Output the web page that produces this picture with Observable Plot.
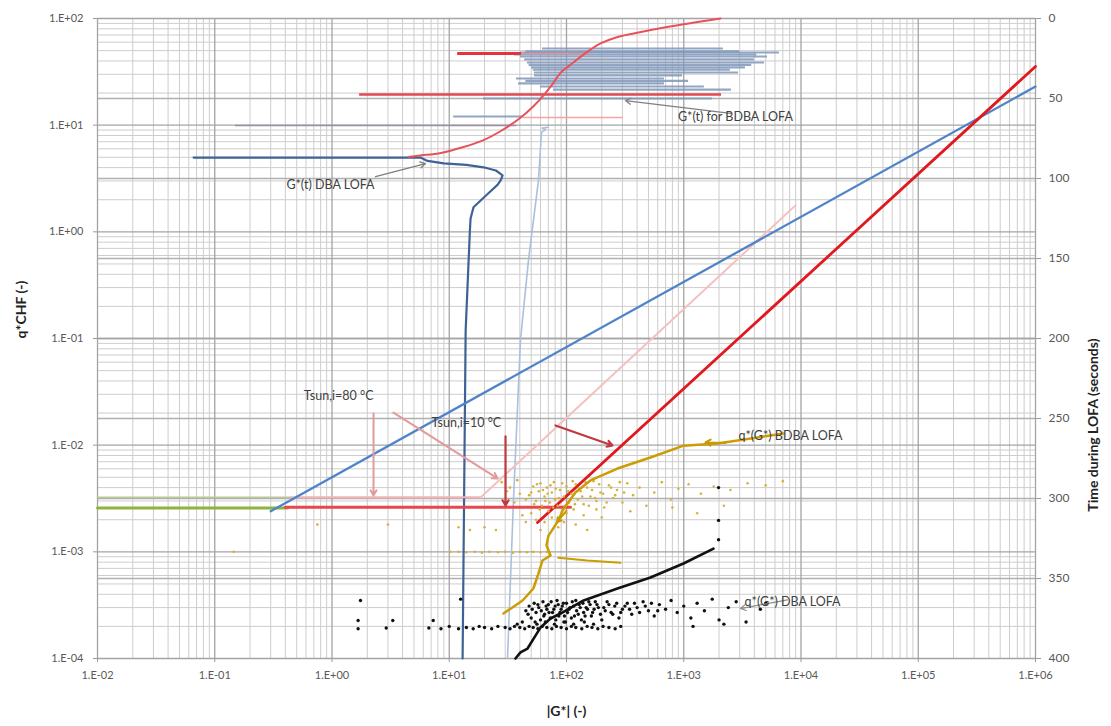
<!DOCTYPE html>
<html><head><meta charset="utf-8">
<script src="https://cdn.jsdelivr.net/npm/d3@7"></script>
<script src="https://cdn.jsdelivr.net/npm/@observablehq/plot@0.6"></script>
<style>body{margin:0;background:#fff;} svg{display:block;}</style>
</head><body><div id="chart"></div>
<script>
// ---------- axes ----------
const xDecades = [0.01, 0.1, 1, 10, 100, 1e3, 1e4, 1e5, 1e6];
const yDecades = [1e-4, 1e-3, 1e-2, 1e-1, 1, 10, 100];
const timeTicks = [0, 50, 100, 150, 200, 250, 300, 350, 400];
const tq = t => Math.pow(10, 2 - t * 6 / 400);          // time (s) -> shared log scale

// ---------- correlation lines q*CHF vs |G*| ----------
const blueLineG = [0.30, 1e6];       const blueLineQ = [0.0024, 23];
const redLineG = [56.6, 1e6];        const redLineQ = [0.00188, 35.5];
const pinkLineG = [18.5, 8980];      const pinkLineQ = [0.00323, 1.77];
const greenHorizG = [0.01, 0.42];    const greenHorizQ = [0.00258, 0.00258];
const olivThinG = [0.01, 0.44];      const olivThinQ = [0.00325, 0.00325];
const pinkHorizG = [0.44, 18.5];     const pinkHorizQ = [0.00325, 0.00325];
const redHorizG = [0.40, 108];       const redHorizQ = [0.00262, 0.00262];

// ---------- G*(t) curves (right axis, seconds) ----------
const redSG = [4.5, 5.69, 8.5, 13, 19.6, 28, 40.5, 52, 63.7, 76, 88.9, 110, 131.6, 160, 195, 260, 373, 700, 2056];
const redST = [86.5, 85.6, 84, 80.5, 76, 70, 62, 55, 48, 41, 34, 28.5, 24, 19.5, 15.6, 12, 9.4, 5.5, 0];
const dbaG = [0.066, 5.69, 6.52, 9, 14, 19.6, 25, 28.5, 27.5, 25.8, 21, 16.1, 15.2, 15.0, 13.8, 13.0];
const dbaT = [86.9, 86.9, 89, 90.5, 91.5, 93, 95, 98, 101, 104, 110, 118, 125, 132.5, 195, 400];
const bdbaVG = [70, 62, 66.2, 61.2, 57.7, 47.4, 40.5, 35.3, 31.4];
const bdbaVT = [68, 68.5, 69.5, 71, 101, 151, 201, 301, 400];

const bdbaSegT  = [18.75, 20.5, 21.25, 22.5, 23.75, 25.5, 27.5, 29, 30.6, 32, 33.75, 35.6, 37.5, 39, 40.6, 42.5, 44.4, 50, 61.25];
const bdbaSegG1 = [62.4, 45, 40.5, 36, 40.5, 44, 46.5, 48, 50.3, 52, 53.3, 53.3, 37.5, 45, 39.0, 60, 77.5, 19.6, 10.9];
const bdbaSegG2 = [2180, 3000, 6560, 4200, 5180, 4000, 4890, 3800, 3360, 2500, 2930, 975, 685, 1100, 685, 1500, 2550, 1760, 43.0];
const redSegT  = [21.9, 21.9, 47.5, 61.9, 66.9];
const redSegG1 = [11.8, 41.3, 1.72, 43.0, 0.15];
const redSegG2 = [41.3, 160, 2100, 306, 37.5];
const redSegColor = ["#e2343c", "#f09090", "#e04a52", "#f3a5a8", "#9c8ea4"];
const redSegWidth = [3, 1.3, 2.6, 1.6, 1.6];

// ---------- q*(G*) curves ----------
const goldCurveG = [7090, 1940, 995, 520, 272, 160, 119, 92.5, 85.5, 70.2, 67.5, 73.1, 62.4, 57.7, 52.2, 42.2, 29.0];
const goldCurveQ = [0.01286, 0.01038, 0.0099, 0.00766, 0.00604, 0.00467, 0.0036, 0.00244, 0.00197, 0.00142, 0.00115, 0.000924, 0.00083, 0.000627, 0.000453, 0.00035, 0.000264];
const goldBranchG = [85, 150, 289];
const goldBranchQ = [0.00088, 0.00083, 0.00079];
const goldPts = [[48,0.0034],[52,0.0041],[55,0.0030],[58,0.0037],[60,0.0044],[62,0.0027],[65,0.0033],[68,0.0040],[70,0.0024],[72,0.0029],[75,0.0036],[78,0.0045],[80,0.0031],[84,0.0027],[88,0.0038],[90,0.0022],[95,0.0033],[100,0.0041],[105,0.0029],[110,0.0035],[115,0.0025],[120,0.0043],[125,0.0031],[132,0.0037],[140,0.0028],[150,0.0040],[160,0.0033],[170,0.0046],[180,0.0030],[195,0.0036],[210,0.0026],[230,0.0042],[250,0.0032],[270,0.0038],[300,0.0029],[330,0.0044],[370,0.0034],[420,0.0040],[480,0.0027],[560,0.0036],[650,0.0045],[780,0.0031],[900,0.0039],[1100,0.0043],[1400,0.0035],[1800,0.0041],[2500,0.0038],[3500,0.0044],[5000,0.0042],[7000,0.0046],[42,0.0022],[38,0.0047],[45,0.0019],[33,0.0040],[28,0.0045],[55,0.0020],[65,0.0019],[85,0.0017],[120,0.0018],[200,0.0021],[150,0.0016],[60,0.0016],[25,0.0016],[20,0.0017],[15,0.0016],[12,0.0017],[0.75,0.0018],[3.0,0.0018],[0.145,0.0010],[350,0.0024],[800,0.0026],[1300,0.0023],[2200,0.0027],[10.2,0.001],[12,0.001],[14,0.00099],[16.5,0.001],[19,0.00098],[22,0.001],[26,0.00099],[30,0.001],[35,0.00098],[40,0.001],[46,0.00099],[52,0.001],[60,0.00099],[68,0.001],
[50,0.0036],[53,0.0028],[56,0.0043],[59,0.0025],[63,0.0038],[66,0.0030],[69,0.0035],[73,0.0042],[77,0.0026],[81,0.0039],[86,0.0032],[92,0.0044],[97,0.0027],[103,0.0037],[108,0.0031],[113,0.0046],[118,0.0028],[128,0.0039],[136,0.0033],[145,0.0045],[155,0.0027],[165,0.0038],[175,0.0032],[190,0.0043],[205,0.0035],[220,0.0029],[240,0.0040],[260,0.0034],[285,0.0045],[310,0.0036],[45,0.0031],[40,0.0035],[36,0.0029],[31,0.0037],[50,0.0023],[75,0.0021],[100,0.0023],[140,0.0022],[180,0.0025],[95,0.0019]];

const blackCurveG = [36.7, 40.5, 46.5, 54.4, 60.0, 73.1, 88.9, 140, 272, 520, 995, 1795];
const blackCurveQ = [0.0001, 0.000114, 0.000124, 0.000164, 0.000195, 0.000237, 0.000264, 0.00035, 0.000453, 0.000574, 0.000778, 0.00107];
const blackPts = [[1980,0.0040],[1980,0.00197],[1980,0.0013],[1.67,0.000227],[1.67,0.00019],[2.9,0.000193],[3.3,0.000227],[6.7,0.000193],[7.3,0.000227],[1.75,0.00035],[12.5,0.00036],
[8.5,0.00019],[10,0.0002],[12,0.00019],[14,0.000195],[16,0.00019],[18,0.0002],[20,0.000195],[23,0.00019],[26,0.0002],[30,0.000195],[33,0.00019],[36,0.0002],[40,0.000195],[44,0.00019],[48,0.0002],[52,0.000195],[57,0.00019],[62,0.0002],[68,0.000195],[75,0.00019],[82,0.0002],[90,0.000195],[100,0.00019],[110,0.0002],[120,0.000195],[135,0.00019],[150,0.0002],[165,0.000195],[185,0.00019],[205,0.0002],[230,0.000195],[260,0.00019],[290,0.0002],
[45,0.00028],[48,0.00031],[50,0.00024],[53,0.00033],[55,0.00027],[58,0.0003],[60,0.00023],[63,0.00034],[65,0.00026],[68,0.00029],[70,0.00032],[73,0.00024],[76,0.00027],[80,0.00031],[83,0.00035],[86,0.00025],[90,0.00029],[94,0.00033],[98,0.00022],[102,0.00027],[107,0.0003],[112,0.00034],[117,0.00025],[122,0.00028],[128,0.00032],[134,0.00023],[140,0.00027],[147,0.0003],[155,0.00034],[163,0.00025],[172,0.00029],[182,0.00032],[195,0.00026],[208,0.0003],[222,0.00034],[240,0.00027],[258,0.00031],[280,0.00024],[300,0.00029],[330,0.00033],[360,0.00026],[400,0.0003],[450,0.00034],[500,0.00028],[560,0.00025],[620,0.00032],[700,0.00029],[780,0.00035],[880,0.00027],[1000,0.00031],[1150,0.00024],[1300,0.00033],[1500,0.00028],[1750,0.00036],[2000,0.00023],[2400,0.0003],[2800,0.00034],[3400,0.00022],[4500,0.00029],[5000,0.00033],[1200,0.0002],[2200,0.00021],
[47,0.00026],[51,0.00029],[54,0.00022],[57,0.00032],[61,0.00028],[64,0.00025],[67,0.00031],[71,0.00027],[74,0.00034],[78,0.00029],[81,0.00023],[85,0.00032],[88,0.00027],[92,0.00031],[96,0.00025],[100,0.00033],[105,0.00029],[110,0.00024],[115,0.00031],[120,0.00035],[126,0.00026],[131,0.0003],[138,0.00033],[144,0.00025],[151,0.00029],[159,0.00032],[167,0.00027],[176,0.00034],[187,0.0003],[200,0.00023],[214,0.00028],[230,0.00032],[248,0.00026],[268,0.00033],[290,0.00027],[315,0.00031],[345,0.00029],[380,0.00033],[420,0.00027],[470,0.00031],[530,0.00033],[600,0.00028],
[56,0.00021],[66,0.00022],[79,0.00021],[95,0.00022],[115,0.00021],[142,0.00022],[170,0.00021],[42,0.00022],[38,0.00021]];

// ---------- annotations ----------
const annoText = ["G*(t) for BDBA LOFA", "G*(t) DBA LOFA", "Tsun,i=80 °C", "Tsun,i=10 °C", "q*(G*) BDBA LOFA", "q*(G*) DBA LOFA"];
const annoG = [2760, 0.97, 1.14, 14.0, 8130, 8470];
const annoQ = [11.8, 2.72, 0.0292, 0.0163, 0.0121, 0.000342];
const annoAnchor = ["start", "middle", "start", "start", "start", "start"];
const arrowG1 = [2506, 2.35, 2.26, 3.34, 30.2, 80.5, 7670, 2270, 100];
const arrowQ1 = [12.9, 3.30, 0.0198, 0.0202, 0.0121, 0.0153, 0.000355, 0.0105, 0.00244];
const arrowG2 = [318, 6.27, 2.26, 25.8, 30.2, 247, 3050, 1530, 83];
const arrowQ2 = [17.0, 4.37, 0.00337, 0.00488, 0.00272, 0.00993, 0.000294, 0.0106, 0.0019];
const arrowColor = ["#7f7f7f", "#7f7f7f", "#e39a9c", "#e39a9c", "#c0393f", "#c0393f", "#8c8c8c", "#c99a00", "#c99a00"];
const arrowWidth = [1.3, 1.3, 2, 2, 2.2, 2.2, 1.2, 2, 2];

// ---------- build tables ----------
const pts = (G, Q) => G.map((g, i) => ({g, q: Q[i]}));
const tpts = (G, T) => G.map((g, i) => ({g, q: tq(T[i])}));
const xMinor = xDecades.slice(0, -1).flatMap(d => [2,3,4,5,6,7,8,9].map(m => m * d));
const yMinor = yDecades.slice(0, -1).flatMap(d => [2,3,4,5,6,7,8,9].map(m => m * d));
const fmt = d => { const e = Math.round(Math.log10(d)); return "1.E" + (e < 0 ? "-" : "+") + String(Math.abs(e)).padStart(2, "0"); };
const bdbaSegs = bdbaSegT.map((t, i) => ({q: tq(t), g1: bdbaSegG1[i], g2: bdbaSegG2[i]}));
const redSegs = redSegT.map((t, i) => ({q: tq(t), g1: redSegG1[i], g2: redSegG2[i], c: redSegColor[i], w: redSegWidth[i]}));
const arrows = arrowG1.map((g, i) => ({x1: g, y1: arrowQ1[i], x2: arrowG2[i], y2: arrowQ2[i], c: arrowColor[i], w: arrowWidth[i]}));
const annos = annoText.map((s, i) => ({s, g: annoG[i], q: annoQ[i], a: annoAnchor[i]}));

const line = (data, stroke, w, extra = {}) => Plot.line(data, {x: "g", y: "q", stroke, strokeWidth: w, ...extra});

const chart = Plot.plot({
  width: 1111, height: 726,
  marginLeft: 97, marginRight: 76, marginTop: 18, marginBottom: 68,
  style: {fontFamily: "Lato, 'Open Sans', sans-serif", fontSize: "11px", color: "#595959", background: "#fff"},
  x: {type: "log", domain: [0.01, 1e6]},
  y: {type: "log", domain: [1e-4, 1e2]},
  marks: [
    Plot.ruleX(xMinor, {stroke: "#cdcdcd", strokeWidth: 1}),
    Plot.ruleY(yMinor, {stroke: "#cdcdcd", strokeWidth: 1}),
    Plot.ruleY(timeTicks.slice(1, -1).map(tq), {stroke: "#b0b0b0", strokeWidth: 1.4}),
    Plot.ruleX(xDecades, {stroke: "#a4a4a4", strokeWidth: 1.3}),
    Plot.ruleY(yDecades, {stroke: "#a4a4a4", strokeWidth: 1.3}),

    // G*(t) BDBA horizontal traces
    Plot.ruleY(bdbaSegs, {y: "q", x1: "g1", x2: "g2", stroke: "#7f97ba", strokeWidth: 2.2, strokeOpacity: 0.85}),
    Plot.ruleY(redSegs, {y: "q", x1: "g1", x2: "g2", stroke: "c", strokeWidth: "w"}),
    line(tpts(bdbaVG, bdbaVT), "#a9c1de", 1.6),
    line(tpts(dbaG, dbaT), "#3f6296", 2.2),
    line(tpts(redSG, redST), "#e8515a", 2, {curve: "catmull-rom"}),

    // correlation lines
    line(pts(olivThinG, olivThinQ), "#b9c99a", 1.5),
    line(pts(pinkHorizG, pinkHorizQ), "#f2b3b5", 1.8),
    line(pts(greenHorizG, greenHorizQ), "#8db43c", 3),
    line(pts(redHorizG, redHorizQ), "#e8474f", 3),
    line(pts(pinkLineG, pinkLineQ), "#f4c0c0", 2),
    line(pts(blueLineG, blueLineQ), "#4f84c8", 2.3),
    line(pts(redLineG, redLineQ), "#e0191f", 2.8),

    // q*(G*) data
    Plot.dot(goldPts, {x: d => d[0], y: d => d[1], r: 1.3, fill: "#d6b23a", stroke: null}),
    line(pts(goldCurveG, goldCurveQ), "#cc9c05", 2.5),
    line(pts(goldBranchG, goldBranchQ), "#cc9c05", 2),
    Plot.dot(blackPts, {x: d => d[0], y: d => d[1], r: 1.7, fill: "#111", stroke: null}),
    line(pts(blackCurveG, blackCurveQ), "#111", 2.6),

    // annotations
    Plot.arrow(arrows, {x1: "x1", y1: "y1", x2: "x2", y2: "y2", stroke: "c", strokeWidth: "w", headLength: 9}),
    Plot.text(annos, {x: "g", y: "q", text: "s", textAnchor: "a", fontSize: 12.5, fill: "#404040", fontFamily: "Lato, sans-serif"}),

    // axes
    Plot.axisX({ticks: xDecades, tickFormat: fmt, tickSize: 4, tickPadding: 9, label: null, stroke: "#999", fontSize: 11}),
    Plot.axisY({ticks: yDecades, tickFormat: fmt, tickSize: 4, tickPadding: 10, label: null, stroke: "#999", fontSize: 11}),
    Plot.axisY({anchor: "right", ticks: timeTicks.map(tq), tickFormat: () => "", tickSize: 5, label: null, stroke: "#999"}),
    Plot.text(timeTicks, {x: () => 1e6, y: t => tq(t), text: t => String(t), dx: 13, textAnchor: "start", fontSize: 12, fill: "#595959"}),
    Plot.text(["q*CHF (-)"], {frameAnchor: "left", rotate: -90, dx: -76, fontWeight: "bold", fontSize: 14, fill: "#222"}),
    Plot.text(["Time during LOFA (seconds)"], {frameAnchor: "right", rotate: -90, dx: 58, fontWeight: "bold", fontSize: 14, fill: "#222"}),
    Plot.text(["|G*| (-)"], {frameAnchor: "bottom", dy: 57, fontWeight: "bold", fontSize: 14, fill: "#222"})
  ]
});
document.getElementById("chart").appendChild(chart);
</script>
</body></html>
